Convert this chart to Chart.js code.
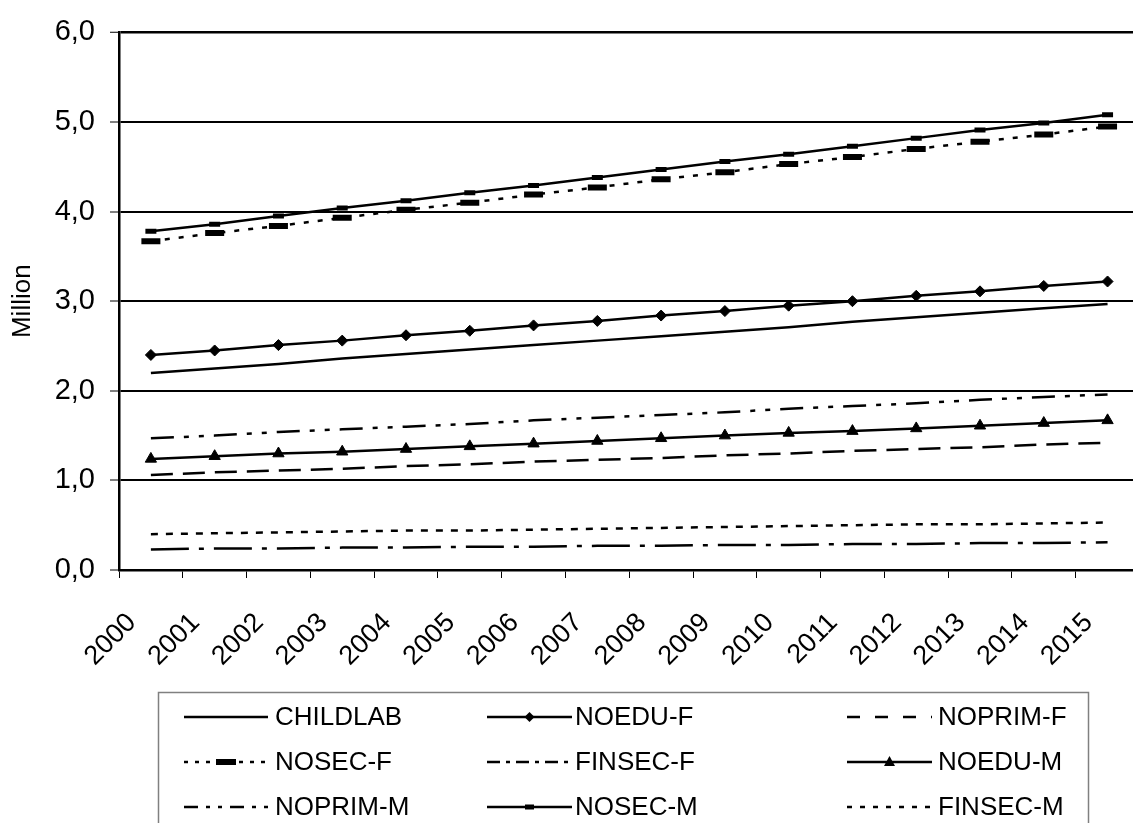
<!DOCTYPE html>
<html><head><meta charset="utf-8">
<script src="https://cdn.jsdelivr.net/npm/chart.js@4/dist/chart.umd.min.js"></script>
<style>html,body{margin:0;padding:0;overflow:hidden;background:#fff;width:1133px;height:823px}
canvas{display:block}</style></head>
<body><canvas id="c" width="1160" height="823" style="width:1160px;height:823px"></canvas>
<script>
const years = ['2000','2001','2002','2003','2004','2005','2006','2007','2008','2009','2010','2011','2012','2013','2014','2015'];
const yTickLabels = ['0,0','1,0','2,0','3,0','4,0','5,0','6,0'];
const childlab = [2.20,2.25,2.30,2.36,2.41,2.46,2.51,2.56,2.61,2.66,2.71,2.77,2.82,2.87,2.92,2.97];
const noeduF   = [2.40,2.45,2.51,2.56,2.62,2.67,2.73,2.78,2.84,2.89,2.95,3.00,3.06,3.11,3.17,3.22];
const noprimF  = [1.06,1.09,1.11,1.13,1.16,1.18,1.21,1.23,1.25,1.28,1.30,1.33,1.35,1.37,1.40,1.42];
const nosecF   = [3.67,3.76,3.84,3.93,4.02,4.10,4.19,4.27,4.36,4.44,4.53,4.61,4.70,4.78,4.86,4.95];
const finsecF  = [0.23,0.24,0.24,0.25,0.25,0.26,0.26,0.27,0.27,0.28,0.28,0.29,0.29,0.30,0.30,0.31];
const noeduM   = [1.24,1.27,1.30,1.32,1.35,1.38,1.41,1.44,1.47,1.50,1.53,1.55,1.58,1.61,1.64,1.67];
const noprimM  = [1.47,1.50,1.54,1.57,1.60,1.63,1.67,1.70,1.73,1.76,1.80,1.83,1.86,1.90,1.93,1.96];
const nosecM   = [3.78,3.86,3.95,4.04,4.12,4.21,4.29,4.38,4.47,4.56,4.64,4.73,4.82,4.91,4.99,5.08];
const finsecM  = [0.40,0.41,0.42,0.43,0.44,0.44,0.45,0.46,0.47,0.48,0.49,0.50,0.51,0.51,0.52,0.53];

const FONT = '"Liberation Sans", Arial, sans-serif';
Chart.defaults.font.family = FONT;
Chart.defaults.color = '#000';

function ds(label, data, dash, extra, legend) {
  return Object.assign({
    label, data,
    borderColor: '#000', backgroundColor: '#000',
    borderWidth: 2.5, borderDash: dash, borderCapStyle: 'butt',
    tension: 0, fill: false, pointRadius: 0, pointHoverRadius: 0,
    legendDash: legend.dash, legendMarker: legend.marker
  }, extra);
}

const datasets = [
  ds('CHILDLAB', childlab, [], {}, {dash: []}),
  ds('NOEDU-F', noeduF, [], {pointStyle: 'rectRot', pointRadius: 5.5, pointBackgroundColor: '#000', pointBorderColor: '#000', pointBorderWidth: 1}, {dash: [], marker: 'diamond'}),
  ds('NOPRIM-F', noprimF, [22, 10], {}, {dash: [13, 15]}),
  ds('NOSEC-F', nosecF, [5, 9], {pointStyle: 'line', pointRadius: 9.5, pointBorderColor: '#000', pointBorderWidth: 6}, {dash: [4, 7], marker: 'bigbar'}),
  ds('FINSEC-F', finsecF, [38, 10, 5, 10], {}, {dash: [13, 6, 4, 6]}),
  ds('NOEDU-M', noeduM, [], {pointStyle: 'triangle', pointRadius: 6.5, pointBackgroundColor: '#000', pointBorderColor: '#000', pointBorderWidth: 1}, {dash: [], marker: 'triangle'}),
  ds('NOPRIM-M', noprimM, [23, 10, 5, 10, 5, 10], {}, {dash: [14, 8, 4, 8, 4, 8]}),
  ds('NOSEC-M', nosecM, [], {pointStyle: 'line', pointRadius: 5.5, pointBorderColor: '#000', pointBorderWidth: 5}, {dash: [], marker: 'smallbar'}),
  ds('FINSEC-M', finsecM, [7, 8], {}, {dash: [5, 8]})
];

const boxLegend = {
  id: 'boxLegend',
  afterDraw(chart) {
    const ctx = chart.ctx;
    ctx.save();
    ctx.setLineDash([]);
    ctx.strokeStyle = '#808080';
    ctx.lineWidth = 1.5;
    ctx.strokeRect(158.5, 692.5, 930, 200);
    const cols = [[184, 268, 275], [487, 572, 575], [847, 932, 938]];
    const rows = [717, 762, 807];
    chart.data.datasets.forEach((d, i) => {
      const c = cols[i % 3], r = rows[Math.floor(i / 3)];
      ctx.strokeStyle = '#000';
      ctx.lineWidth = 2.5;
      ctx.lineCap = 'butt';
      ctx.setLineDash(d.legendDash || []);
      ctx.beginPath(); ctx.moveTo(c[0], r); ctx.lineTo(c[1], r); ctx.stroke();
      ctx.setLineDash([]);
      const mx = (c[0] + c[1]) / 2;
      ctx.fillStyle = '#000';
      if (d.legendMarker === 'diamond') {
        ctx.beginPath(); ctx.moveTo(mx - 5, r); ctx.lineTo(mx, r - 5); ctx.lineTo(mx + 5, r); ctx.lineTo(mx, r + 5); ctx.closePath(); ctx.fill();
      } else if (d.legendMarker === 'triangle') {
        ctx.beginPath(); ctx.moveTo(mx, r - 6); ctx.lineTo(mx + 5.5, r + 4); ctx.lineTo(mx - 5.5, r + 4); ctx.closePath(); ctx.fill();
      } else if (d.legendMarker === 'bigbar') {
        ctx.fillRect(mx - 10, r - 3, 20, 6);
      } else if (d.legendMarker === 'smallbar') {
        ctx.fillRect(mx - 4.5, r - 2.5, 9, 5);
      }
      ctx.font = '26px ' + FONT;
      ctx.textBaseline = 'middle';
      ctx.textAlign = 'left';
      ctx.fillText(d.label, c[2], r + 1);
    });
    ctx.restore();
  }
};

new Chart(document.getElementById('c'), {
  type: 'line',
  data: { labels: years, datasets },
  plugins: [boxLegend],
  options: {
    responsive: false,
    animation: false,
    events: [],
    layout: { padding: { top: 29, right: 17, left: 0, bottom: 0 } },
    plugins: { legend: { display: false }, tooltip: { enabled: false } },
    scales: {
      x: {
        offset: true,
        afterFit(s) { s.height = 253; },
        grid: { display: true, drawOnChartArea: false, drawTicks: true, tickLength: 8, offset: true, color: '#000', tickColor: '#000', tickWidth: 1 },
        border: { display: true, color: '#000', width: 2.5 },
        ticks: { autoSkip: false, minRotation: 45, maxRotation: 45, padding: 29, labelOffset: -19, font: { size: 27 }, color: '#000' }
      },
      y: {
        min: 0, max: 6,
        afterFit(s) { s.width = 119; },
        grid: {
          color: '#000', lineWidth: (c) => (c.tick && c.tick.value === 6 ? 2.5 : 2),
          drawTicks: true, tickLength: 9, tickColor: '#000', tickWidth: 1
        },
        border: { display: true, color: '#000', width: 2.5 },
        ticks: { stepSize: 1, padding: 15, font: { size: 29 }, color: '#000',
          callback: (v, i) => yTickLabels[i] },
        title: { display: true, text: 'Million', font: { size: 26 }, color: '#000', padding: { top: 7, bottom: 0 } }
      }
    }
  }
});
</script>
</body></html>
